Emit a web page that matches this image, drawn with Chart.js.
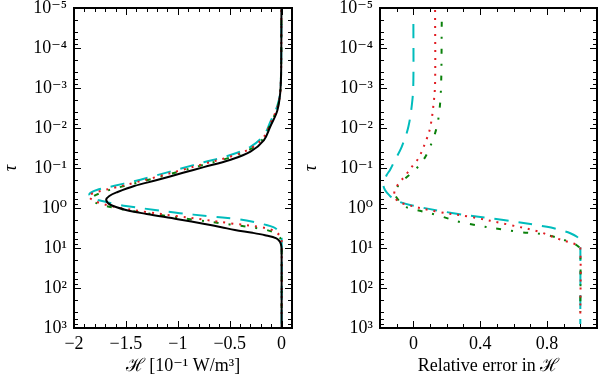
<!DOCTYPE html>
<html><head><meta charset="utf-8">
<script src="https://cdn.jsdelivr.net/npm/chart.js@4.4.1/dist/chart.umd.min.js"></script>
<style>
html,body{margin:0;padding:0;background:#fff;}
#wrap{position:relative;width:600px;height:381px;overflow:hidden;}
canvas{position:absolute;top:0;}
</style></head><body>
<div id="wrap">
<canvas id="c1" width="300" height="381" style="left:0"></canvas>
<canvas id="c2" width="300" height="381" style="left:300px"></canvas>
</div>
<script>
// ---------- data ----------
// left panel: H [1e-1 W/m^3] versus optical depth tau
const tauExact = [1e-5,1e-4,1e-3,3.55e-3,9.3e-3,2.0e-2,3.9e-2,6.3e-2,9.5e-2,0.132,0.2,0.282,0.398,0.5,0.63,0.83,1.12,1.41,1.9,2.51,3.02,3.55,4.17,4.79,5.75,7.1,9.3,12.6,1000];
const hExact   = [-0.002,-0.003,-0.01,-0.04,-0.11,-0.17,-0.30,-0.50,-0.75,-0.95,-1.20,-1.42,-1.58,-1.66,-1.69,-1.65,-1.50,-1.30,-1.00,-0.74,-0.58,-0.45,-0.28,-0.16,-0.05,-0.015,-0.002,0,0];

const tauRedL = [1.12e-5,1e-3,2.95e-3,7.8e-3,1.66e-2,3.24e-2,5.25e-2,7.9e-2,0.11,0.166,0.234,0.316,0.398,0.5,0.63,0.794,1,1.26,1.58,1.95,2.4,2.95,3.55,4.27,5.25,6.3,560];
const hRedL   = [-0.002,-0.01,-0.04,-0.11,-0.17,-0.30,-0.50,-0.75,-0.95,-1.20,-1.42,-1.62,-1.78,-1.86,-1.82,-1.72,-1.55,-1.30,-1.02,-0.75,-0.50,-0.22,-0.09,-0.04,-0.01,0,0];

const tauGreenL = [2.0e-5,1e-3,3.1e-3,8.1e-3,1.74e-2,3.39e-2,5.5e-2,8.3e-2,0.115,0.174,0.245,0.331,0.427,0.525,0.63,0.794,1,1.26,1.58,2.0,2.57,3.31,3.98,4.73,6.3,7.9,400];
const hGreenL   = [-0.002,-0.01,-0.04,-0.11,-0.17,-0.30,-0.50,-0.75,-0.95,-1.20,-1.42,-1.62,-1.75,-1.82,-1.83,-1.76,-1.60,-1.38,-1.10,-0.82,-0.50,-0.20,-0.08,-0.035,-0.005,0,0];

const tauCyanL = [2.5e-5,1e-3,2.7e-3,7.1e-3,1.51e-2,2.95e-2,4.8e-2,7.2e-2,0.1,0.151,0.214,0.282,0.355,0.437,0.537,0.66,0.794,0.89,1.12,1.35,1.58,1.9,2.24,2.57,3.02,3.55,4.47,5.25,800];
const hCyanL   = [-0.002,-0.01,-0.04,-0.11,-0.17,-0.30,-0.50,-0.75,-0.95,-1.20,-1.42,-1.62,-1.78,-1.85,-1.84,-1.74,-1.60,-1.50,-1.22,-0.98,-0.72,-0.42,-0.26,-0.17,-0.08,-0.04,-0.01,0,0];

// right panel: relative error in H versus tau
const tauCyanR = [2.5e-5,6.3e-4,2.0e-3,9.3e-3,2.95e-2,6.3e-2,0.112,0.15,0.25,0.355,0.5,0.63,0.84,1.35,2.0,2.95,3.55,4.27,5.25,6.3,7.6,800];
const errCyan  = [0.0,0.0,-0.006,-0.03,-0.07,-0.11,-0.14,-0.16,-0.18,-0.17,-0.14,-0.11,-0.02,0.24,0.54,0.80,0.88,0.94,0.98,0.995,1.0,1.0];

const tauRedR = [1.12e-5,7.6e-4,2.7e-3,1e-2,2.4e-2,5.75e-2,8.3e-2,0.158,0.25,0.355,0.5,0.63,0.76,1.23,1.66,2.66,3.9,5.75,8.5,10,560];
const errRed  = [0.13,0.13,0.12,0.10,0.07,0.03,0.0,-0.05,-0.09,-0.11,-0.115,-0.10,-0.07,0.14,0.34,0.58,0.75,0.86,0.985,1.0,1.0];

const tauGreenR = [2.2e-5,1.12e-3,5.75e-3,1.35e-2,2.95e-2,5.75e-2,0.112,0.2,0.316,0.447,0.63,0.89,1.12,1.5,2.34,3.9,4.73,7.6,9.3,11.2,400];
const errGreen  = [0.17,0.165,0.15,0.13,0.10,0.066,0.01,-0.06,-0.10,-0.11,-0.09,-0.06,0.02,0.14,0.30,0.62,0.80,0.956,0.99,1.0,1.0];

// tick labels
const tauTicks = [1e-5,1e-4,1e-3,1e-2,1e-1,1,10,100,1000];
const tauTickLabels = ['10⁻⁵','10⁻⁴','10⁻³','10⁻²','10⁻¹','10⁰','10¹','10²','10³'];
const hTicks = [-2,-1.5,-1,-0.5,0];
const hTickLabels = ['−2','−1.5','−1','−0.5','0'];
const errTicks = [0,0.4,0.8];
const errTickLabels = ['0','0.4','0.8'];

// ---------- helpers ----------
const FONT = "'Liberation Serif','DejaVu Serif',serif";
const pts = (xs, ys) => xs.map((t,i)=>({x: ys[i], y: t}));
const COL = {black:'#000000', red:'#e01c22', green:'#0a800a', cyan:'#00bcbc'};

function series(label, xs, ys, color, dash, cap){
  return {label, data: pts(xs, ys), borderColor: color, backgroundColor: color,
    borderWidth: 2, borderDash: dash, borderCapStyle: cap||'butt', pointRadius: 0,
    tension: 0.35, fill: false};
}

const minorLog = [];
for (let k=-5;k<3;k++){ [2,4,6,8].forEach(m=>minorLog.push(m*Math.pow(10,k))); }
const range = (a,b,s)=>{const r=[];for(let v=a; v<=b+1e-9; v+=s) r.push(Math.round(v*100)/100);return r;};

const frameTicks = {
  id:'frameTicks',
  afterDatasetsDraw(chart, args, o){
    const {ctx, chartArea:a, scales:{x, y}} = chart;
    ctx.save();
    ctx.strokeStyle = '#000';
    ctx.lineWidth = 1;
    const seg=(x1,y1,x2,y2)=>{ctx.beginPath();ctx.moveTo(x1,y1);ctx.lineTo(x2,y2);ctx.stroke();};
    const xt=(v,len)=>{const p=Math.round(x.getPixelForValue(v))+0.5; seg(p,a.bottom,p,a.bottom-len); seg(p,a.top,p,a.top+len);};
    const yt=(v,len)=>{const p=Math.round(y.getPixelForValue(v))+0.5; seg(a.left,p,a.left+len,p); seg(a.right,p,a.right-len,p);};
    o.xMinor.forEach(v=>xt(v,4));
    o.xMajor.forEach(v=>xt(v,7));
    minorLog.forEach(v=>yt(v,4));
    tauTicks.forEach(v=>yt(v,7));
    ctx.lineWidth = 2;
    ctx.strokeRect(a.left, a.top, a.right-a.left, a.bottom-a.top);
    ctx.restore();
  }
};

function makeChart(id, datasets, xCfg, yWidth, padRight, plug){
  return new Chart(document.getElementById(id), {
    type:'line',
    data:{datasets},
    plugins:[frameTicks],
    options:{
      responsive:false, animation:false, parsing:false,
      layout:{padding:{left:0,right:padRight,top:8,bottom:0}},
      plugins:{legend:{display:false}, tooltip:{enabled:false}, frameTicks:plug},
      scales:{
        x:{type:'linear', min:xCfg.min, max:xCfg.max,
          grid:{display:false, drawTicks:false}, border:{display:false},
          afterBuildTicks:s=>{s.ticks = xCfg.ticks.map(v=>({value:v}));},
          afterFit:s=>{s.height=53; s.paddingLeft=0; s.paddingRight=0;},
          ticks:{autoSkip:false, maxRotation:0, padding:5, color:'#000',
            font:{family:FONT,size:18}, callback:(v,i)=>xCfg.labels[i]},
          title:{display:true, text:xCfg.title, color:'#000',
            font:{family:FONT,size:18}, padding:{top:0,bottom:4}}
        },
        y:{type:'logarithmic', reverse:true, min:1e-5, max:1e3,
          grid:{display:false, drawTicks:false}, border:{display:false},
          afterBuildTicks:s=>{s.ticks = tauTicks.map(v=>({value:v}));},
          afterFit:s=>{s.width=yWidth; s.paddingTop=0; s.paddingBottom=0;},
          ticks:{autoSkip:false, padding:7, color:'#000',
            font:{family:FONT,size:18}, callback:(v,i)=>tauTickLabels[i]},
          title:{display:true, text:'τ', color:'#000',
            font:{family:FONT,size:18,style:'italic'}, padding:{top:0,bottom:0}}
        }
      }
    }
  });
}

makeChart('c1', [
  series('exact', tauExact, hExact, COL.black, [], 'round'),
  series('red', tauRedL, hRedL, COL.red, [2,6]),
  series('green', tauGreenL, hGreenL, COL.green, [5,10,2,10]),
  series('cyan', tauCyanL, hCyanL, COL.cyan, [14,10])
], {min:-2, max:0.1, ticks:hTicks, labels:hTickLabels, title:'ℋ [10⁻¹ W/m³]'}, 74, 8,
  {xMinor: range(-2,0.1,0.1), xMajor: hTicks});

makeChart('c2', [
  series('red', tauRedR, errRed, COL.red, [2,6]),
  series('green', tauGreenR, errGreen, COL.green, [5,10,2,10]),
  series('cyan', tauCyanR, errCyan, COL.cyan, [14,10])
], {min:-0.2, max:1.1, ticks:errTicks, labels:errTickLabels, title:'Relative error in ℋ'}, 80, 3,
  {xMinor: range(-0.2,1.1,0.1), xMajor: errTicks});
</script>
</body></html>
